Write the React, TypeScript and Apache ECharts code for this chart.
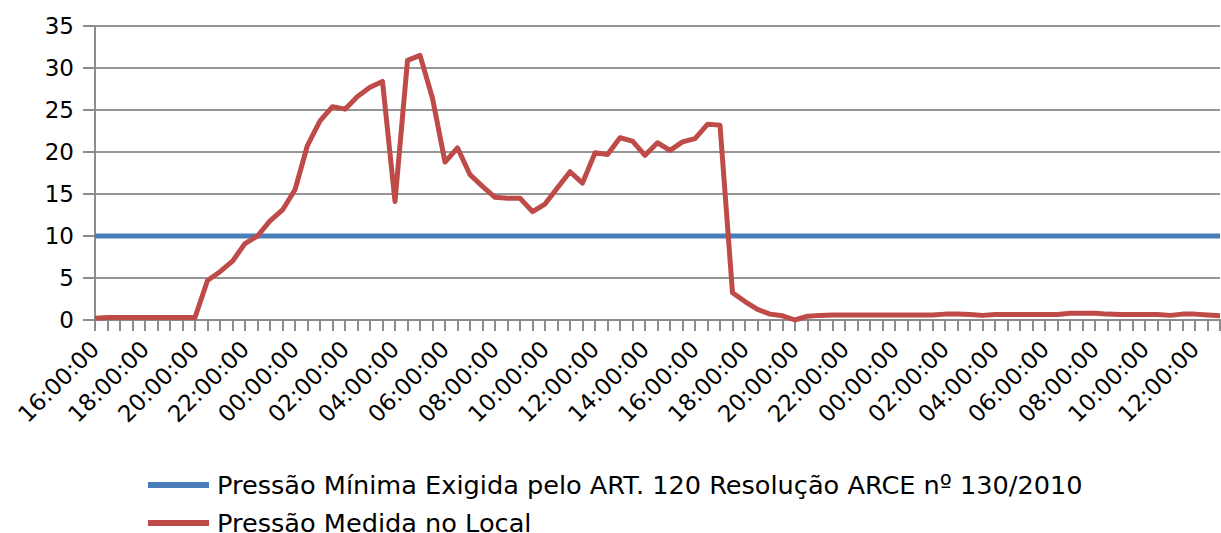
import React, { useEffect, useRef } from "react";
import * as echarts from "echarts";

// Category labels: half-hour readings starting at 16:00:00
const startHour = 16;
const pointCount = 91;
const categories: string[] = [];
for (let i = 0; i < pointCount; i++) {
  const totalMin = startHour * 60 + i * 30;
  const h = Math.floor(totalMin / 60) % 24;
  const m = totalMin % 60;
  categories.push(`${String(h).padStart(2, "0")}:${String(m).padStart(2, "0")}:00`);
}

const minimumPressureName = "Pressão Mínima Exigida pelo ART. 120 Resolução ARCE nº 130/2010";
const measuredPressureName = "Pressão Medida no Local";

const minimumPressureValue = 10;
const minimumPressure: number[] = categories.map(() => minimumPressureValue);

const measuredPressure: number[] = [
  0.2, 0.3, 0.3, 0.3, 0.3, 0.3, 0.3, 0.3, 0.3, 4.7,
  5.75, 7.0, 9.1, 10.0, 11.8, 13.1, 15.5, 20.8, 23.7, 25.4,
  25.1, 26.6, 27.7, 28.4, 14.1, 30.9, 31.5, 26.4, 18.8, 20.5,
  17.3, 15.9, 14.6, 14.5, 14.5, 12.9, 13.8, 15.75, 17.65, 16.3,
  19.9, 19.7, 21.7, 21.3, 19.6, 21.1, 20.2, 21.2, 21.6, 23.3,
  23.2, 3.25, 2.2, 1.27, 0.7, 0.5, 0.0, 0.45, 0.55, 0.6,
  0.6, 0.6, 0.6, 0.6, 0.6, 0.6, 0.6, 0.6, 0.7, 0.7,
  0.65, 0.55, 0.65, 0.65, 0.65, 0.65, 0.65, 0.65, 0.8, 0.8,
  0.8, 0.7, 0.65, 0.65, 0.65, 0.65, 0.55, 0.7, 0.7, 0.6,
  0.5,
];

const yTicks = { min: 0, max: 35, interval: 5 };

export default function App() {
  const ref = useRef<HTMLDivElement>(null);
  useEffect(() => {
    if (!ref.current) return;
    const chart = echarts.init(ref.current, undefined, { renderer: "svg" });
    const font = "DejaVu Sans";
    chart.setOption({
      animation: false,
      backgroundColor: "#ffffff",
      textStyle: { fontFamily: font, color: "#000" },
      grid: { left: 95, right: 1, top: 26, bottom: 213, containLabel: false },
      legend: {
        orient: "vertical",
        left: 148,
        top: 472,
        height: 120,
        padding: 0,
        icon: "rect",
        itemWidth: 61,
        itemHeight: 6,
        itemGap: 12,
        textStyle: { fontFamily: font, fontSize: 25.6, color: "#000", padding: [0, 0, 0, 3] },
        data: [minimumPressureName, measuredPressureName],
      },
      xAxis: {
        type: "category",
        boundaryGap: false,
        data: categories,
        axisLine: { lineStyle: { color: "#8c8c8c", width: 2 } },
        axisTick: { show: true, interval: 0, length: 11, lineStyle: { color: "#8c8c8c", width: 2 } },
        axisLabel: {
          interval: 3,
          rotate: 45,
          margin: 25,
          fontSize: 23,
          fontFamily: font,
          color: "#000",
        },
        splitLine: { show: false },
      },
      yAxis: {
        type: "value",
        min: yTicks.min,
        max: yTicks.max,
        interval: yTicks.interval,
        axisLine: { show: true, lineStyle: { color: "#8c8c8c", width: 2 } },
        axisTick: { show: true, length: 12, lineStyle: { color: "#8c8c8c", width: 2 } },
        axisLabel: { fontSize: 23, fontFamily: font, color: "#000", margin: 21 },
        splitLine: { show: true, lineStyle: { color: "#959595", width: 2 } },
      },
      series: [
        {
          name: minimumPressureName,
          type: "line",
          data: minimumPressure,
          showSymbol: false,
          symbol: "none",
          lineStyle: { color: "#4a7ebb", width: 5 },
          itemStyle: { color: "#4a7ebb" },
        },
        {
          name: measuredPressureName,
          type: "line",
          data: measuredPressure,
          showSymbol: false,
          symbol: "none",
          lineStyle: { color: "#be4b48", width: 5, join: "round" },
          itemStyle: { color: "#be4b48" },
        },
      ],
    });
    return () => chart.dispose();
  }, []);
  return (
    <div
      ref={ref}
      style={{ position: "fixed", left: 0, top: 0, width: 1221, height: 533 }}
    />
  );
}
